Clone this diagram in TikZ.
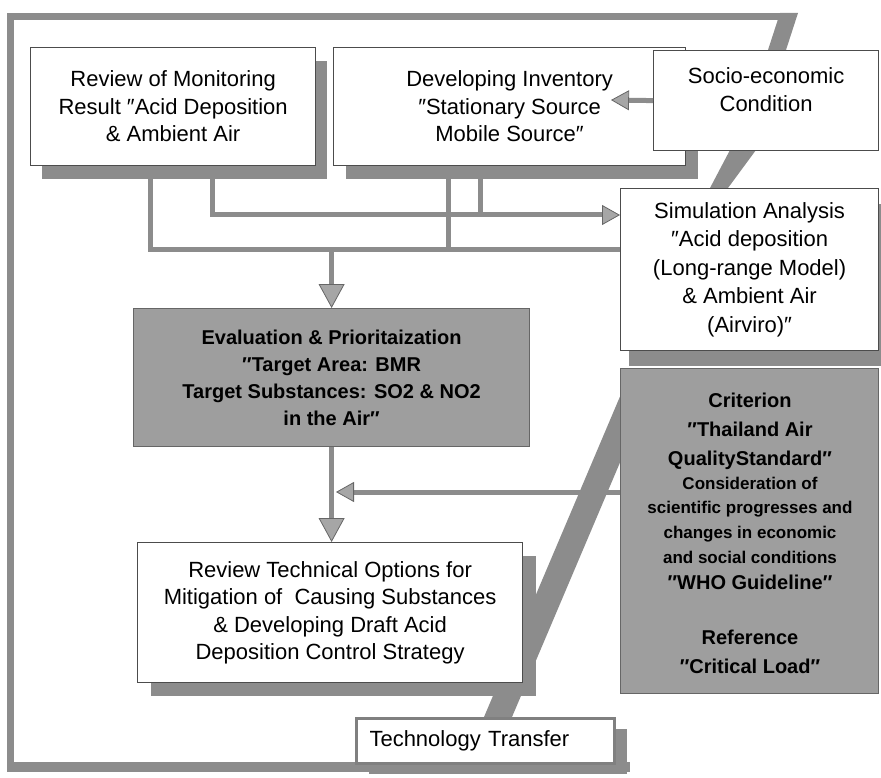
\documentclass[tikz,border=0pt]{standalone}
\usepackage{fontspec}
\setmainfont{Liberation Sans}
\usetikzlibrary{arrows.meta,shadows,backgrounds}
\begin{document}
\begin{tikzpicture}[x=1pt,y=-1pt,
  wbox/.style={draw=black!70, line width=1.2pt, fill=white, inner sep=0pt, align=center,
    font=\fontsize{22}{27.5}\selectfont, anchor=north west},
  gbox/.style={draw=black!60, line width=1.2pt, fill=black!38, inner sep=0pt, anchor=north west},
  gtext/.style={align=center, inner sep=0pt, font=\bfseries\fontsize{20}{29}\selectfont},
  stext/.style={align=center, inner sep=0pt, font=\bfseries\fontsize{17}{24.7}\selectfont},
  band/.style={fill=black!45, draw=none},
  conn/.style={draw=black!45, line width=5pt},
  bigtip/.style={-{Triangle[length={24pt 0},width={26pt 0},line width=0.8pt,color=black!60,fill=black!35]}},
  smalltip/.style={-{Triangle[length={18pt 0},width={20pt 0},line width=0.8pt,color=black!60,fill=black!35]}},
  shad/.style 2 args={drop shadow={opacity=1,fill=black!45,shadow xshift=#1,shadow yshift=#2}}
]
\useasboundingbox (0,0) rectangle (881,778);

% boxes
\node[wbox, shad={11pt}{-13pt}, minimum width=285pt, minimum height=118pt] (b1) at (30,47)
  {Review of Monitoring\\Result ″Acid Deposition\\\& Ambient Air};
\node[wbox, shad={12pt}{-13pt}, minimum width=352pt, minimum height=118pt] (b2) at (333,47)
  {Developing Inventory\\″Stationary Source\\Mobile Source″};
\node[wbox, minimum width=225pt, minimum height=100pt] (soc) at (653,50)
  {Socio-economic\\Condition\\[-5pt]};
\node[wbox, shad={8pt}{-15pt}, minimum width=258pt, minimum height=162pt,
  font=\fontsize{22}{28.5}\selectfont] (sim) at (620,188)
  {Simulation Analysis\\″Acid deposition\\(Long-range Model)\\\& Ambient Air\\(Airviro)″};
\node[gbox, minimum width=396pt, minimum height=138pt, align=center,
  font=\bfseries\fontsize{20}{27}\selectfont] (eva) at (133,308)
  {Evaluation \& Prioritaization\\″Target Area: BMR\\Target Substances: SO2 \& NO2\\in the Air″};
\node[gbox, minimum width=258pt, minimum height=325pt] (cri) at (620,368) {};
\node[gtext] (cria) at (750,431) {Criterion\\″Thailand Air\\QualityStandard″};
\node[stext] (crib) at (750,520) {Consideration of\\scientific progresses and\\changes in economic\\and social conditions};
\node[gtext] (cric) at (750,582) {″WHO Guideline″};
\node[gtext] (crid) at (750,652) {Reference\\″Critical Load″};
\node[wbox, shad={13pt}{-13pt}, minimum width=385pt, minimum height=140pt] (rev) at (137,542)
  {Review Technical Options for\\Mitigation of \ Causing Substances\\\& Developing Draft Acid\\Deposition Control Strategy};
\node[wbox, shad={12pt}{-10pt}, draw=black!50, line width=3pt, text width=232pt, align=left,
  inner xsep=13pt, minimum height=45pt] (tt) at (355,717) {Technology Transfer};

% junction points
\coordinate (xa) at (150,250);
\coordinate (xb) at (212,215);
\coordinate (xc) at (448,250);
\coordinate (xd) at (480,215);
\coordinate (xf) at (336,492);
\coordinate (invsrc) at (611,100);

\begin{scope}[on background layer]
  % outer frame
  \fill[black!45] (7,13) rectangle (792,20);
  \fill[black!45] (7,13) rectangle (14,772);
  \fill[black!45] (7,762) rectangle (630,772);
  % slanted bands
  \fill[band] (780,13) -- (798,13) -- (786,50) -- (768,50) -- cycle;
  \fill[band] (730,150) -- (756,150) -- (728,188) -- (710,188) -- cycle;
  \fill[band] (484,717) -- (512,717) -- (655,380) -- (627,380) -- cycle;
  % connectors
  \draw[conn] (b1.south -| xa) -- (xa) -- (sim.west |- xa);
  \draw[conn] (b2.south -| xc) -- (xc);
  \draw[conn] (b2.south -| xd) -- (xd);
  \draw[conn, smalltip] (b1.south -| xb) -- (xb) -- (sim.west |- xb);
  \draw[conn, bigtip] (eva.north |- xa) -- (eva.north);
  \draw[conn, bigtip] (eva.south) -- (eva.south |- rev.north);
  \draw[conn, smalltip] (cri.west |- xf) -- (xf);
\end{scope}
\draw[conn, smalltip] (soc.west) -- (invsrc);
\end{tikzpicture}
\end{document}
